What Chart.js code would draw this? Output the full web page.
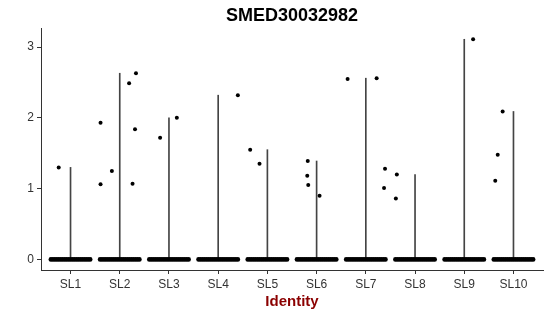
<!DOCTYPE html>
<html>
<head>
<meta charset="utf-8">
<script src="https://cdn.jsdelivr.net/npm/chart.js@4"></script>
<style>
  html, body { margin: 0; padding: 0; background: #fff; }
  #wrap { width: 550px; height: 316px; }
</style>
</head>
<body>
<div id="wrap"><canvas id="chart"></canvas></div>
<script>
// Violin-ish plot of SMED30032982 per identity group
const categories = ['SL1', 'SL2', 'SL3', 'SL4', 'SL5', 'SL6', 'SL7', 'SL8', 'SL9', 'SL10'];
const violinMax = [1.30, 2.63, 2.00, 2.32, 1.55, 1.39, 2.56, 1.20, 3.11, 2.09];

// horizontal jitter of the many zero-valued cells (shared by each group)
const zeroJitter = [-0.40, -0.36, -0.32, -0.28, -0.24, -0.20, -0.16, -0.12, -0.08, -0.04,
    0.00, 0.04, 0.08, 0.12, 0.16, 0.20, 0.24, 0.28, 0.32, 0.36, 0.40];

// non-zero cells: group index (1-based), jitter offset, expression
const outlierGroup = [1, 2, 2, 2, 2, 2, 2, 2, 3, 3, 4, 5, 5, 6, 6, 6, 6, 7, 7, 7, 7, 8, 8, 9, 10, 10, 10];
const outlierJitter = [-0.24, -0.39, -0.39, -0.16, 0.19, 0.33, 0.31, 0.26, -0.18, 0.16, 0.40, -0.35, -0.16,
    -0.18, -0.19, -0.17, 0.06, -0.37, 0.22, 0.39, 0.37, -0.37, -0.39, 0.18, -0.22, -0.32, -0.37];
const outlierValue = [1.30, 1.06, 1.93, 1.25, 2.49, 2.63, 1.84, 1.07, 1.72, 2.00, 2.32, 1.55, 1.35,
    1.39, 1.18, 1.05, 0.90, 2.55, 2.56, 1.28, 1.01, 1.20, 0.86, 3.11, 2.09, 1.48, 1.11];

const yTicks = [0, 1, 2, 3];

const zeroPoints = [];
categories.forEach((c, i) => {
    zeroJitter.forEach(j => zeroPoints.push({ x: i + 1 + j, y: 0 }));
});
const outlierPoints = outlierGroup.map((g, i) => ({ x: g + outlierJitter[i], y: outlierValue[i] }));
const violinBars = violinMax.map((m, i) => ({ x: i + 1, y: [0, m] }));

const fontFamily = '"Liberation Sans", Arial, sans-serif';

new Chart(document.getElementById('chart'), {
    type: 'scatter',
    data: {
        datasets: [
            {
                label: 'zero',
                data: zeroPoints,
                pointRadius: 2.3,
                pointBorderWidth: 0,
                backgroundColor: '#000',
                borderColor: '#000',
                order: 1
            },
            {
                label: 'cells',
                data: outlierPoints,
                pointRadius: 2,
                pointBorderWidth: 0,
                backgroundColor: '#000',
                borderColor: '#000',
                order: 0
            },
            {
                type: 'bar',
                label: 'violin',
                data: violinBars,
                barThickness: 1,
                backgroundColor: '#444',
                borderWidth: 0,
                order: 2
            }
        ]
    },
    options: {
        responsive: true,
        maintainAspectRatio: false,
        animation: false,
        events: [],
        layout: { padding: { left: 0, right: 7, top: 0, bottom: 0 } },
        plugins: {
            legend: { display: false },
            tooltip: { enabled: false },
            title: {
                display: true,
                text: 'SMED30032982',
                fullSize: false,
                color: '#000',
                font: { family: fontFamily, size: 18, weight: 'bold', lineHeight: 1.2 },
                padding: { top: 5.5, bottom: 1 }
            }
        },
        scales: {
            x: {
                type: 'linear',
                min: 0.4,
                max: 10.6,
                offset: false,
                afterBuildTicks: s => { s.ticks = categories.map((c, i) => ({ value: i + 1 })); },
                afterFit: s => { s.height = 46; },
                ticks: {
                    autoSkip: false,
                    maxRotation: 0,
                    padding: 3,
                    color: '#333',
                    font: { family: fontFamily, size: 12 },
                    callback: v => categories[Math.round(v) - 1]
                },
                grid: { display: true, drawOnChartArea: false, drawTicks: true, tickLength: 4, color: '#333', offset: false },
                border: { display: true, color: '#333', width: 1 },
                title: {
                    display: true,
                    text: 'Identity',
                    color: '#8B0000',
                    font: { family: fontFamily, size: 15, weight: 'bold', lineHeight: 1.2 },
                    padding: { top: 0, bottom: 5 }
                }
            },
            y: {
                type: 'linear',
                min: -0.15,
                max: 3.268,
                afterBuildTicks: s => { s.ticks = yTicks.map(v => ({ value: v })); },
                afterFit: s => { s.width = 41; },
                ticks: {
                    padding: 3,
                    color: '#333',
                    font: { family: fontFamily, size: 12 },
                    callback: v => String(v)
                },
                grid: { display: true, drawOnChartArea: false, drawTicks: true, tickLength: 4, color: '#333' },
                border: { display: true, color: '#333', width: 1 }
            }
        }
    }
});
</script>
</body>
</html>
